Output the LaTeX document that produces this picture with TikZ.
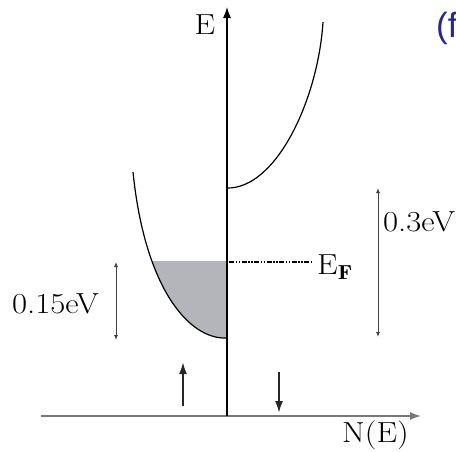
\documentclass[tikz,border=0pt]{standalone}
\usepackage{fontspec}
\newfontfamily\panelfont{Liberation Sans}
\usetikzlibrary{arrows.meta,positioning,calc}
\definecolor{bandfill}{RGB}{180,181,186}
\definecolor{axisgray}{RGB}{120,120,120}
\definecolor{panelblue}{RGB}{38,38,150}
\newcommand{\widetext}[1]{\scalebox{1.13}[1]{#1}}
\tikzset{
	lbl/.style={font=\fontsize{29}{34}\selectfont, inner sep=0pt},
	axisline/.style={-{Latex[length=11pt, width=8pt]}, line width=1.2pt},
	band/.style={line width=1.2pt},
	dimarrow/.style={{Latex[length=5pt, width=4pt]}-{Latex[length=5pt, width=4pt]}, line width=0.9pt, black!75},
	spinarrow/.style={-{Latex[length=12pt, width=8pt]}, line width=2pt, black!85}
}
\begin{document}
\begin{tikzpicture}[x=1pt, y=-1pt]
	\useasboundingbox (0,0) rectangle (456,451);
	
	%% -- Axis points
	\coordinate (O) at (227,416);
	\coordinate (Etop) at (227,7);
	\coordinate (Nleft) at (41,416);
	\coordinate (Nright) at (421,416);
	
	%% -- Band minima and tops
	\coordinate (upmin) at (227,338);
	\coordinate (uptop) at (133,172);
	\coordinate (dnmin) at (227,188);
	\coordinate (dntop) at (323,22);
	
	%% -- Filled part of the majority band (below E_F)
	\begin{scope}
		\clip (100,261) rectangle (227,345);
		\fill[bandfill] (upmin) .. controls (190,340) and (145,290) .. (uptop)
		-- (227,172) -- cycle;
	\end{scope}
	
	%% -- Bands
	\draw[band] (upmin) .. controls (190,340) and (145,290) .. (uptop);
	\draw[band] (dnmin) .. controls (276,189) and (318,100) .. (dntop);
	
	%% -- Axes
	\draw[axisline, axisgray, line width=1.5pt] (Nleft) -- (Nright);
	\draw[axisline] (O) -- (Etop);
	
	\node[lbl] (elabel) at (205,25) {\widetext{E}};
	\node[lbl, anchor=north west] (nlabel) at (342,421) {\widetext{N(E)}};
	
	%% -- Fermi level
	\coordinate (efstart) at (229,262);
	\coordinate (efend) at (312,262);
	\draw[line width=1.6pt, dash pattern=on 5pt off 1.5pt on 1.5pt off 1.5pt on 1.5pt off 1.5pt]
	(efstart) -- (efend);
	\node[lbl, anchor=west] (ef) at (317,267) {\widetext{E$_{\mathrm{\bf F}}$}};
	
	%% -- Energy scales
	\coordinate (sa) at (116,262);
	\coordinate (sb) at (116,340);
	\draw[dimarrow] (sa) -- (sb);
	\node[lbl, anchor=east] (small) at (99,304) {\widetext{0.15eV}};
	
	\coordinate (la) at (378,188);
	\coordinate (lb) at (378,337);
	\draw[dimarrow] (la) -- (lb);
	\node[lbl, anchor=west] (large) at (383,222) {\widetext{0.3eV}};
	
	%% -- Spin arrows
	\coordinate (upa) at (183,406);
	\coordinate (upb) at (183,362);
	\draw[spinarrow] (upa) -- (upb);
	\coordinate (dna) at (279,372);
	\coordinate (dnb) at (279,413);
	\draw[spinarrow] (dna) -- (dnb);
	
	%% -- Panel tag
	\node[font=\panelfont\fontsize{35}{40}\selectfont, text=panelblue, anchor=west, inner sep=0pt]
	(tag) at (436,28) {(f};
	
\end{tikzpicture}
\end{document}
